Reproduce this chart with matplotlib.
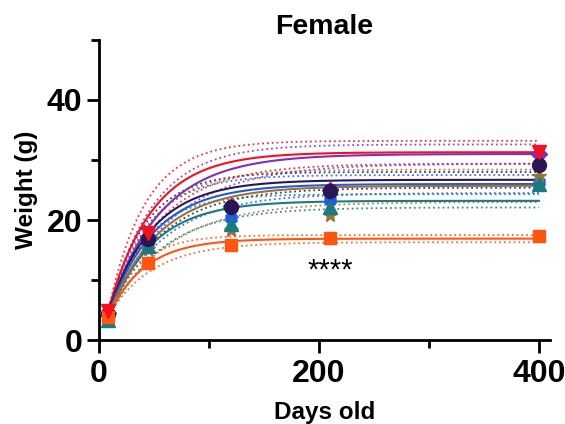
import numpy as np
import matplotlib
matplotlib.use("Agg")
import matplotlib.pyplot as plt
from matplotlib.ticker import MultipleLocator

plt.rcParams['font.family'] = ['Liberation Sans', 'DejaVu Sans']
plt.rcParams['font.weight'] = 'bold'

# Sampling days and group means
days = [8, 45, 120, 210, 400]
red_means = [4.8, 17.9, None, None, 31.4]
purple_means = [4.5, 17.2, 22.4, 25.0, 31.0]
navy_means = [4.3, 16.9, 22.2, 24.9, 29.2]
blue_means = [4.0, 16.0, 20.3, 23.3, 26.4]
teal_means = [3.4, 15.6, 19.4, 22.2, 26.0]
brown_means = [3.8, 15.2, 18.3, 20.8, 27.3]
orange_means = [3.9, 12.8, 15.9, 17.0, 17.3]

# One-phase association fits: plateau, value at day 8, rate constant,
# plus half-width of the confidence band at the plateau
fit_plateau = [31.3, 31.0, 26.7, 26.0, 23.2, 25.7, 16.9]
fit_start = [4.6, 4.4, 4.3, 4.0, 3.5, 3.8, 3.9]
fit_rate = [0.025, 0.021, 0.025, 0.024, 0.025, 0.022, 0.030]
band_halfwidth = [1.9, 1.6, 1.3, 1.5, 1.1, 2.7, 0.6]

colors = ['#F5101E', '#8A2BB5', '#2A1650', '#1E5AE6', '#197A80', '#9B7333', '#FF5511']
markers = ['v', 'D', 'o', 'h', '^', '*', 's']
sizes = [10, 8, 10, 9, 10, 11, 9]
means = [red_means, purple_means, navy_means, blue_means,
         teal_means, brown_means, orange_means]


def association(x, plateau, start, k):
    return plateau - (plateau - start) * np.exp(-k * (x - 8))


fig = plt.figure(figsize=(5.65, 4.24), dpi=100)
ax = fig.add_axes([0.1752, 0.198, 0.7983, 0.7077])

xs = np.linspace(8, 400, 300)
spread = 0.18
for i in range(len(colors)):
    p, s, k, d = fit_plateau[i], fit_start[i], fit_rate[i], band_halfwidth[i]
    ax.plot(xs, association(xs, p + d, s, k * (1 + spread)), ':',
            color=colors[i], lw=1.3, alpha=0.85, zorder=2)
    ax.plot(xs, association(xs, p - d, s, k * (1 - spread)), ':',
            color=colors[i], lw=1.3, alpha=0.85, zorder=2)
    ax.plot(xs, association(xs, p, s, k), '-', color=colors[i], lw=1.5, zorder=3)

# markers: purple drawn first so the others sit on top of it
order = [1, 3, 5, 4, 2, 6, 0]
for i in order:
    pts = [(d, m) for d, m in zip(days, means[i]) if m is not None]
    ax.plot([p[0] for p in pts], [p[1] for p in pts], linestyle='none',
            marker=markers[i], ms=sizes[i], color=colors[i], mec=colors[i], zorder=5)

ax.text(210, 11.6, '****', ha='center', va='center', fontsize=21, fontweight='normal')

ax.set_xlim(0, 410)
ax.set_ylim(0, 50)
ax.set_xticks([0, 200, 400])
ax.set_yticks([0, 20, 40])
ax.xaxis.set_minor_locator(MultipleLocator(100))
ax.yaxis.set_minor_locator(MultipleLocator(10))
ax.spines['top'].set_visible(False)
ax.spines['right'].set_visible(False)
for sp in ['left', 'bottom']:
    ax.spines[sp].set_linewidth(2.0)
ax.tick_params(which='major', length=9, width=2.0, labelsize=23, pad=3)
ax.tick_params(which='minor', length=5.5, width=2.0)
ax.tick_params(axis='x', which='major', pad=5)
for lab in ax.get_xticklabels() + ax.get_yticklabels():
    lab.set_fontweight('bold')

ax.set_title('Female', fontsize=20.5, fontweight='bold', pad=4)
ax.set_xlabel('Days old', fontsize=17.5, fontweight='bold', labelpad=8)
ax.set_ylabel('Weight (g)', fontsize=17.5, fontweight='bold', labelpad=6)

fig.savefig('out.png', dpi=100)
